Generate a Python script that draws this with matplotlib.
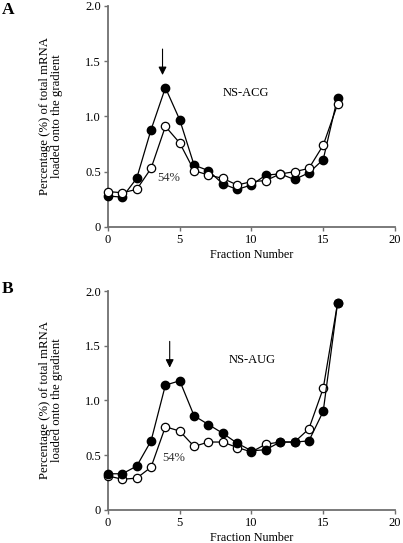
import matplotlib
matplotlib.use("Agg")
import matplotlib.pyplot as plt

plt.rcParams['font.family'] = ['Liberation Serif', 'DejaVu Serif']

fractions = list(range(17))

acg_filled = [0.28, 0.27, 0.44, 0.88, 1.26, 0.97, 0.56, 0.51, 0.39, 0.34, 0.38,
              0.47, 0.48, 0.43, 0.49, 0.61, 1.17]
acg_open = [0.32, 0.31, 0.34, 0.53, 0.91, 0.76, 0.51, 0.47, 0.44, 0.38, 0.41,
            0.42, 0.48, 0.50, 0.53, 0.74, 1.11]

aug_filled = [0.33, 0.33, 0.40, 0.63, 1.14, 1.18, 0.86, 0.78, 0.70, 0.61, 0.54,
              0.55, 0.62, 0.62, 0.63, 0.90, 1.89]
aug_open = [0.31, 0.28, 0.29, 0.39, 0.76, 0.72, 0.58, 0.62, 0.62, 0.57, 0.53,
            0.60, 0.62, 0.62, 0.74, 1.11, 1.89]

x_ticks = [0, 5, 10, 15, 20]
y_ticks = [0, 0.5, 1.0, 1.5, 2.0]
y_ticklabels = ['0', '0.5', '1.0', '1.5', '2.0']

ylabel = 'Percentage (%) of total mRNA\nloaded onto the gradient'

fig = plt.figure(figsize=(4.03, 5.43), dpi=100)

panels = [
    # letter, filled, open, name, name pos, arrow x, arrow y, pct pos, axes rect, open on top, letter y
    ('A', acg_filled, acg_open, 'NS-ACG', (9.6, 1.21), 3.8, (1.61, 1.375), (4.25, 0.44),
     [0.268, 0.582, 0.712, 0.407], True, 0.996),
    ('B', aug_filled, aug_open, 'NS-AUG', (10.05, 1.37), 4.3, (1.54, 1.30), (4.6, 0.47),
     [0.268, 0.061, 0.712, 0.403], False, 0.482),
]

for (letter, filled, opened, name, name_pos, ax_x, ax_y, pct_pos, rect,
     open_top, letter_y) in panels:
    ax = fig.add_axes(rect)
    zf, zo = (3, 4) if open_top else (4, 3)
    ax.plot(fractions, filled, '-o', color='black', lw=0.9, ms=6,
            mfc='black', mec='black', zorder=zf, clip_on=False)
    ax.plot(fractions, opened, '-o', color='black', lw=0.9, ms=6,
            mfc='white', mec='black', mew=0.9, zorder=zo, clip_on=False)
    ax.set_xlim(0, 20)
    ax.set_ylim(0, 2.0)
    ax.set_xticks(x_ticks)
    ax.set_yticks(y_ticks)
    ax.set_yticklabels(y_ticklabels)
    for s in ['top', 'right']:
        ax.spines[s].set_visible(False)
    for s in ['left', 'bottom']:
        ax.spines[s].set_color('#6f6f6f')
        ax.spines[s].set_linewidth(1.3)
    ax.tick_params(axis='both', colors='#6f6f6f', labelcolor='black',
                   labelsize=9, length=3, width=1, direction='out', pad=2)
    ax.set_xlabel('Fraction Number', fontsize=8.7, labelpad=2)
    ax.set_ylabel(ylabel, fontsize=9.2, linespacing=0.95)
    ax.yaxis.set_label_coords(-0.158, 0.5)
    ax.text(name_pos[0], name_pos[1], name, fontsize=9, ha='center', va='center')
    ax.text(pct_pos[0], pct_pos[1], '54%', fontsize=9, ha='center', va='center',
            color='#333333')
    ax.annotate('', xy=(ax_x, ax_y[1]), xytext=(ax_x, ax_y[0]),
                arrowprops=dict(arrowstyle='-|>', color='black', lw=0.8,
                                mutation_scale=12, shrinkA=0, shrinkB=0))
    fig.text(0.005, letter_y, letter, fontsize=12.5,
             fontweight='bold', ha='left', va='top')

fig.savefig('out.png', dpi=100)
